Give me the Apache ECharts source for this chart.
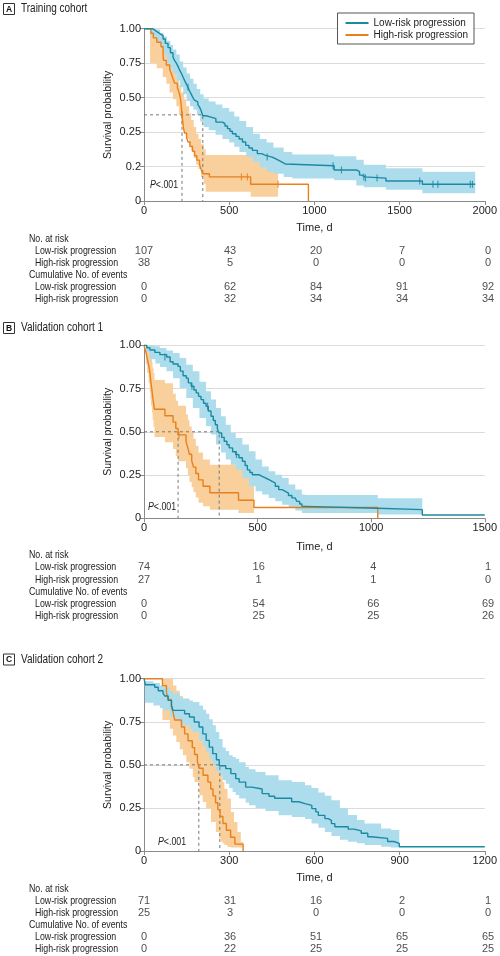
<!DOCTYPE html>
<html><head><meta charset="utf-8">
<script src="https://cdn.jsdelivr.net/npm/echarts/dist/echarts.min.js"></script>
<style>html,body{margin:0;padding:0;background:#fff}#c{width:500px;height:956px}</style>
</head><body><div id="c"></div>
<script>
// ---------- DATA ----------
var seriesNames = ['Low-risk progression', 'High-risk progression'];

// Panel A: Training cohort  ([day, survival])
var A_low = [[0,1],[50,0.99],[65,0.98],[80,0.97],[95,0.96],[112,0.94],[125,0.915],[141,0.89],[155,0.86],[170,0.835],[180,0.815],[190,0.8],[200,0.78],[209,0.76],[220,0.74],[229,0.72],[238,0.7],[248,0.68],[258,0.66],[267,0.64],[277,0.62],[287,0.6],[296,0.585],[306,0.575],[316,0.56],[326,0.545],[335,0.525],[345,0.495],[364,0.487],[393,0.478],[422,0.458],[461,0.449],[475,0.435],[490,0.42],[505,0.405],[519,0.39],[540,0.375],[558,0.36],[578,0.342],[597,0.323],[616,0.308],[636,0.294],[665,0.275],[690,0.265],[713,0.255],[752,0.246],[771,0.236],[791,0.226],[810,0.215],[829,0.205],[1116,0.18],[1246,0.17],[1265,0.15],[1280,0.14],[1295,0.133],[1420,0.116],[1634,0.097],[1944,0.097]];
var A_high = [[0,1],[40,0.974],[55,0.947],[75,0.921],[100,0.895],[112,0.842],[115,0.816],[131,0.789],[151,0.763],[161,0.737],[170,0.711],[180,0.684],[196,0.658],[205,0.632],[212,0.605],[216,0.579],[219,0.553],[221,0.526],[223,0.5],[226,0.474],[229,0.447],[232,0.421],[238,0.395],[250,0.368],[258,0.342],[270,0.316],[285,0.289],[297,0.263],[310,0.237],[326,0.211],[335,0.184],[345,0.158],[384,0.14],[626,0.097],[965,0]];
var A_lowCensor = [[258,0.66],[723,0.255],[1110,0.205],[1159,0.18],[1290,0.14],[1300,0.133],[1368,0.133],[1618,0.116],[1696,0.097],[1725,0.097],[1915,0.097],[1928,0.097]];
var A_highCensor = [[224,0.5],[572,0.14],[607,0.14],[787,0.097]];
// bands: [day, lower, upper]
var A_lowBand = [[0,1,1],[40,0.955,1],[70,0.93,0.995],[95,0.89,0.975],[115,0.85,0.955],[135,0.8,0.93],[155,0.77,0.905],[170,0.74,0.88],[190,0.7,0.85],[210,0.66,0.81],[230,0.62,0.775],[250,0.58,0.74],[270,0.55,0.71],[290,0.53,0.68],[310,0.5,0.65],[330,0.46,0.62],[350,0.43,0.595],[380,0.41,0.578],[420,0.385,0.56],[460,0.36,0.54],[500,0.34,0.52],[530,0.315,0.49],[560,0.285,0.465],[600,0.255,0.43],[640,0.225,0.39],[680,0.195,0.36],[720,0.17,0.34],[760,0.158,0.31],[820,0.14,0.285],[870,0.13,0.27],[950,0.13,0.27],[1116,0.12,0.26],[1246,0.09,0.24],[1290,0.08,0.21],[1420,0.065,0.19],[1634,0.045,0.17],[1944,0.045,0.17]];
var A_highBand = [[0,1,1],[35,0.8,1],[75,0.77,0.97],[110,0.72,0.93],[131,0.68,0.89],[150,0.63,0.84],[170,0.59,0.77],[190,0.55,0.71],[205,0.5,0.67],[219,0.44,0.63],[235,0.4,0.59],[248,0.36,0.55],[265,0.32,0.51],[277,0.29,0.47],[292,0.25,0.43],[306,0.21,0.39],[320,0.185,0.36],[335,0.14,0.33],[350,0.1,0.3],[362,0.054,0.267],[626,0.025,0.267],[787,0.025,0.267]];
var A_medians = [223, 345];
var A_xTicks = [0, 500, 1000, 1500, 2000];
var A_yLabels = ['0', '0.2', '0.25', '0.50', '0.75', '1.00'];
var A_riskLow = [107, 43, 20, 7, 0];
var A_riskHigh = [38, 5, 0, 0, 0];
var A_eventsLow = [0, 62, 84, 91, 92];
var A_eventsHigh = [0, 32, 34, 34, 34];

// Panel B: Validation cohort 1
var B_low = [[0,1],[12,0.986],[26,0.973],[48,0.959],[70,0.946],[100,0.932],[115,0.905],[128,0.892],[150,0.878],[160,0.851],[172,0.824],[186,0.81],[195,0.783],[208,0.763],[220,0.742],[230,0.725],[240,0.705],[251,0.686],[262,0.665],[273,0.647],[283,0.62],[295,0.59],[305,0.565],[314,0.541],[323,0.515],[331,0.493],[342,0.468],[353,0.445],[365,0.425],[375,0.407],[390,0.385],[404,0.368],[418,0.35],[433,0.33],[445,0.305],[455,0.28],[466,0.265],[477,0.252],[506,0.243],[520,0.233],[535,0.224],[550,0.214],[564,0.204],[578,0.185],[593,0.166],[608,0.156],[622,0.146],[636,0.132],[651,0.118],[665,0.108],[673,0.098],[685,0.083],[695,0.069],[709,0.058],[1029,0.05],[1225,0.019],[1500,0.019]];
var B_high = [[0,1],[8,0.963],[14,0.926],[20,0.889],[25,0.852],[28,0.815],[31,0.778],[35,0.741],[38,0.704],[42,0.667],[46,0.63],[92,0.593],[128,0.556],[140,0.519],[150,0.482],[185,0.444],[193,0.407],[200,0.37],[210,0.333],[218,0.296],[228,0.259],[240,0.222],[260,0.185],[290,0.148],[416,0.104],[484,0.062],[1029,0]];
var B_lowCensor = [[92,0.932],[211,0.763],[280,0.647],[407,0.368]];
var B_highCensor = [[154,0.482]];
var B_lowBand = [[0,1,1],[10,0.96,1],[26,0.92,1],[50,0.895,0.995],[70,0.875,0.985],[99,0.85,0.97],[128,0.81,0.956],[157,0.753,0.927],[186,0.696,0.888],[215,0.638,0.85],[244,0.58,0.79],[273,0.532,0.734],[295,0.484,0.686],[317,0.426,0.638],[339,0.38,0.59],[360,0.34,0.541],[382,0.31,0.493],[404,0.281,0.464],[433,0.233,0.426],[462,0.185,0.387],[491,0.156,0.34],[520,0.137,0.3],[549,0.118,0.272],[578,0.098,0.252],[608,0.079,0.233],[637,0.06,0.195],[666,0.045,0.166],[695,0.031,0.137],[709,0.03,0.135],[1029,0.022,0.116],[1225,0.022,0.116]];
var B_highBand = [[0,1,1],[8,0.89,1],[14,0.84,1],[20,0.78,1],[25,0.73,0.97],[28,0.69,0.95],[31,0.65,0.92],[35,0.61,0.9],[38,0.57,0.87],[42,0.53,0.84],[46,0.47,0.8],[92,0.44,0.78],[128,0.4,0.72],[140,0.36,0.68],[150,0.33,0.65],[185,0.29,0.6],[193,0.25,0.57],[200,0.21,0.53],[210,0.18,0.5],[218,0.15,0.46],[228,0.12,0.42],[240,0.09,0.38],[260,0.07,0.34],[290,0.05,0.31],[416,0.03,0.31],[484,0.03,0.31]];
var B_medians = [150, 331];
var B_xTicks = [0, 500, 1000, 1500];
var B_yLabels = ['0', '0.25', '0.50', '0.75', '1.00'];
var B_riskLow = [74, 16, 4, 1];
var B_riskHigh = [27, 1, 1, 0];
var B_eventsLow = [0, 54, 66, 69];
var B_eventsHigh = [0, 25, 25, 26];

// Panel C: Validation cohort 2
var C_low = [[0,1],[5,0.965],[38,0.95],[50,0.93],[67,0.915],[73,0.9],[85,0.874],[97,0.845],[102,0.816],[143,0.797],[160,0.778],[177,0.749],[194,0.72],[207,0.68],[219,0.642],[230,0.603],[242,0.565],[255,0.53],[265,0.495],[288,0.478],[306,0.449],[323,0.42],[335,0.4],[358,0.371],[380,0.36],[416,0.333],[440,0.318],[460,0.306],[520,0.286],[545,0.275],[567,0.265],[591,0.246],[605,0.227],[614,0.207],[637,0.188],[649,0.178],[660,0.159],[672,0.141],[719,0.127],[740,0.117],[765,0.103],[788,0.083],[800,0.073],[858,0.055],[880,0.044],[899,0.025],[1200,0.025]];
var C_high = [[0,1],[65,0.96],[79,0.92],[85,0.88],[96,0.84],[103,0.8],[108,0.76],[132,0.72],[143,0.68],[155,0.64],[170,0.6],[178,0.56],[188,0.52],[194,0.48],[208,0.44],[225,0.4],[235,0.36],[243,0.32],[252,0.28],[260,0.24],[268,0.2],[278,0.16],[290,0.12],[305,0.08],[320,0.04],[349,0]];
var C_lowCensor = [];
var C_highCensor = [];
var C_lowBand = [[0,1,1],[3,0.86,0.985],[33,0.845,0.975],[56,0.83,0.96],[67,0.816,0.95],[91,0.78,0.93],[102,0.768,0.915],[126,0.745,0.89],[137,0.73,0.885],[160,0.71,0.874],[172,0.69,0.865],[195,0.642,0.845],[208,0.61,0.82],[219,0.574,0.797],[230,0.535,0.765],[242,0.497,0.73],[253,0.465,0.69],[265,0.439,0.65],[277,0.41,0.6],[288,0.39,0.58],[300,0.365,0.555],[312,0.342,0.545],[323,0.325,0.536],[335,0.304,0.515],[358,0.28,0.487],[370,0.265,0.475],[393,0.25,0.458],[428,0.232,0.439],[474,0.207,0.41],[521,0.197,0.4],[567,0.185,0.381],[590,0.16,0.365],[614,0.135,0.34],[637,0.11,0.32],[660,0.087,0.295],[690,0.065,0.25],[718,0.054,0.209],[750,0.045,0.18],[777,0.035,0.16],[835,0.025,0.13],[870,0.02,0.122],[899,0.02,0.122]];
var C_highBand = [[0,1,1],[65,0.76,1],[91,0.71,1],[102,0.67,0.96],[114,0.632,0.93],[126,0.59,0.9],[137,0.555,0.87],[149,0.515,0.845],[160,0.478,0.815],[172,0.43,0.787],[178,0.4,0.755],[195,0.323,0.72],[207,0.285,0.69],[219,0.246,0.66],[236,0.168,0.594],[253,0.11,0.516],[265,0.072,0.48],[271,0.055,0.44],[277,0.043,0.4],[283,0.035,0.362],[294,0.023,0.304],[306,0.02,0.226],[317,0.02,0.168],[329,0.02,0.11],[341,0.02,0.052],[349,0.02,0.052]];
var C_medians = [193, 267];
var C_xTicks = [0, 300, 600, 900, 1200];
var C_yLabels = ['0', '0.25', '0.50', '0.75', '1.00'];
var C_riskLow = [71, 31, 16, 2, 1];
var C_riskHigh = [25, 3, 0, 0, 0];
var C_eventsLow = [0, 36, 51, 65, 65];
var C_eventsHigh = [0, 22, 25, 25, 25];

var panelTitles = ['Training cohort', 'Validation cohort 1', 'Validation cohort 2'];
var panelLetters = ['A', 'B', 'C'];
var tableRowLabels = ['No. at risk', 'Low-risk progression', 'High-risk progression', 'Cumulative No. of events', 'Low-risk progression', 'High-risk progression'];

// ---------- STYLE / LAYOUT ----------
var TEAL = '#1a8aa2', ORANGE = '#e8801e';
var TEAL_BAND = '#addded', ORANGE_BAND = '#f9cf9c';
var FONT = "'Liberation Sans', Arial, sans-serif";
var TXT = '#222';
var SX = 0.8; // horizontal squeeze for condensed look of free text

var panels = [
  {low:A_low, high:A_high, lc:A_lowCensor, hc:A_highCensor, lb:A_lowBand, hb:A_highBand, med:A_medians, ticks:A_xTicks, ylab:A_yLabels,
   table:[null, A_riskLow, A_riskHigh, null, A_eventsLow, A_eventsHigh], top:28.7, h:172.3, tTop:233.3, tH:72, nameGap:21, titleY:9, pX:150, pY:185},
  {low:B_low, high:B_high, lc:B_lowCensor, hc:B_highCensor, lb:B_lowBand, hb:B_highBand, med:B_medians, ticks:B_xTicks, ylab:B_yLabels,
   table:[null, B_riskLow, B_riskHigh, null, B_eventsLow, B_eventsHigh], top:345.3, h:173, tTop:549, tH:73.2, nameGap:23, titleY:328, pX:148, pY:506.7},
  {low:C_low, high:C_high, lc:C_lowCensor, hc:C_highCensor, lb:C_lowBand, hb:C_highBand, med:C_medians, ticks:C_xTicks, ylab:C_yLabels,
   table:[null, C_riskLow, C_riskHigh, null, C_eventsLow, C_eventsHigh], top:678.7, h:172.3, tTop:882.7, tH:72, nameGap:21, titleY:659.5, pX:158, pY:841.7}
];

var grids = [], xAxes = [], yAxes = [], series = [], graphics = [];

function bandSeries(gi, band, color, z) {
  return {
    type: 'custom', xAxisIndex: gi, yAxisIndex: gi, silent: true, animation: false, z: z, clip: true,
    data: band,
    encode: {x: 0, y: [1, 2]},
    renderItem: function (params, api) {
      if (params.dataIndex !== 0) return null;
      var up = [], lo = [];
      for (var i = 0; i < band.length - 1; i++) {
        var t0 = band[i][0], t1 = band[i + 1][0];
        up.push(api.coord([t0, band[i][2]]), api.coord([t1, band[i][2]]));
        lo.push(api.coord([t0, band[i][1]]), api.coord([t1, band[i][1]]));
      }
      return {type: 'polygon', shape: {points: up.concat(lo.reverse())},
              style: {fill: color, blend: 'multiply'}};
    }
  };
}

panels.forEach(function (p, k) {
  var gi = k * 2, ti = k * 2 + 1;
  var xmax = p.ticks[p.ticks.length - 1], xint = p.ticks[1] - p.ticks[0];
  var yint = 1 / (p.ylab.length - 1);
  grids.push({left: 144, right: 12, top: p.top, height: p.h});
  grids.push({left: 144, right: 12, top: p.tTop, height: p.tH});
  xAxes.push({type: 'value', gridIndex: gi, min: 0, max: xmax, interval: xint,
    axisLine: {show: true, lineStyle: {color: '#8a8a8a', width: 1}},
    axisTick: {show: true, length: 4, lineStyle: {color: '#8a8a8a'}},
    axisLabel: {color: TXT, fontSize: 11, margin: 4, fontFamily: FONT, formatter: function (v) { return String(v); }},
    splitLine: {show: false},
    name: 'Time, d', nameLocation: 'middle', nameGap: p.nameGap, nameMoveOverlap: false,
    nameTextStyle: {color: TXT, fontSize: 11, fontFamily: FONT}});
  xAxes.push({type: 'value', gridIndex: ti, min: 0, max: xmax, show: false});
  (function (labels) {
    yAxes.push({type: 'value', gridIndex: gi, min: 0, max: 1, interval: yint,
      axisLine: {show: true, lineStyle: {color: '#8a8a8a', width: 1}},
      axisTick: {show: true, length: 4, lineStyle: {color: '#8a8a8a'}},
      axisLabel: {color: TXT, fontSize: 11, margin: 3, fontFamily: FONT,
        formatter: function (v) { return labels[Math.round(v / yint)]; }},
      splitLine: {show: true, lineStyle: {color: '#dcdcdc', width: 1}},
      name: 'Survival probability', nameLocation: 'middle', nameGap: 30, nameMoveOverlap: false,
      nameTextStyle: {color: TXT, fontSize: 10.5, fontFamily: FONT}});
  })(p.ylab);
  yAxes.push({type: 'value', gridIndex: ti, min: 0, max: 6, inverse: true, show: false});

  // bands (orange under, blue over)
  series.push(bandSeries(gi, p.hb, ORANGE_BAND, 1));
  series.push(bandSeries(gi, p.lb, TEAL_BAND, 2));
  // median dashed lines
  var dash = {color: '#777', width: 1, type: [3, 3]};
  series.push({type: 'line', xAxisIndex: gi, yAxisIndex: gi, silent: true, animation: false, z: 3, symbol: 'none',
    lineStyle: dash, data: [[0, 0.5], [p.med[1], 0.5], [p.med[1], 0]]});
  series.push({type: 'line', xAxisIndex: gi, yAxisIndex: gi, silent: true, animation: false, z: 3, symbol: 'none',
    lineStyle: dash, data: [[p.med[0], 0.5], [p.med[0], 0]]});
  // KM curves
  series.push({type: 'line', name: seriesNames[1], xAxisIndex: gi, yAxisIndex: gi, step: 'end', symbol: 'none', silent: true, animation: false, z: 4,
    lineStyle: {color: ORANGE, width: 1.4}, itemStyle: {color: ORANGE}, data: p.high});
  series.push({type: 'line', name: seriesNames[0], xAxisIndex: gi, yAxisIndex: gi, step: 'end', symbol: 'none', silent: true, animation: false, z: 5,
    lineStyle: {color: TEAL, width: 1.4}, itemStyle: {color: TEAL}, data: p.low});
  // censor marks
  series.push({type: 'scatter', xAxisIndex: gi, yAxisIndex: gi, silent: true, animation: false, z: 6,
    symbol: 'rect', symbolSize: [1.2, 7], itemStyle: {color: ORANGE}, data: p.hc});
  series.push({type: 'scatter', xAxisIndex: gi, yAxisIndex: gi, silent: true, animation: false, z: 6,
    symbol: 'rect', symbolSize: [1.2, 7], itemStyle: {color: TEAL}, data: p.lc});
  // risk table numbers
  var tdata = [];
  p.table.forEach(function (row, r) {
    if (!row) return;
    row.forEach(function (v, i) { tdata.push([p.ticks[i], r + 0.5, v]); });
  });
  series.push({type: 'scatter', xAxisIndex: ti, yAxisIndex: ti, silent: true, animation: false,
    symbol: 'circle', symbolSize: 1, itemStyle: {color: 'rgba(0,0,0,0)'},
    label: {show: true, position: 'inside', color: TXT, fontSize: 11, fontFamily: FONT,
      formatter: function (q) { return String(q.value[2]); }},
    data: tdata});

  // titles
  var by = p.titleY;
  graphics.push({type: 'rect', x: 3.5, y: by - 5.5, shape: {width: 11, height: 11}, style: {fill: '#fff', stroke: '#333', lineWidth: 1}});
  graphics.push({type: 'text', x: 9, y: by + 0.5, style: {text: panelLetters[k], fontSize: 8.5, fontWeight: 'bold', fill: '#111', fontFamily: FONT, align: 'center', verticalAlign: 'middle'}});
  graphics.push({type: 'text', x: 21, y: by, scaleX: SX, style: {text: panelTitles[k], fontSize: 12.5, fill: TXT, fontFamily: FONT, verticalAlign: 'middle'}});
  // P value
  graphics.push({type: 'text', x: p.pX, y: p.pY, scaleX: SX, style: {rich: {i: {fontStyle: 'italic', fontSize: 11, fontFamily: FONT, fill: TXT}, n: {fontSize: 11, fontFamily: FONT, fill: TXT}},
    text: '{i|P}{n|<.001}', verticalAlign: 'middle'}});
  // table row labels
  tableRowLabels.forEach(function (lab, r) {
    var isHead = (r === 0 || r === 3);
    graphics.push({type: 'text', x: isHead ? 29 : 35, y: p.tTop + (r + 0.5) * (p.tH / 6), scaleX: SX,
      style: {text: lab, fontSize: 11, fill: TXT, fontFamily: FONT, verticalAlign: 'middle'}});
  });
});

var chart = echarts.init(document.getElementById('c'), null, {renderer: 'canvas'});
chart.setOption({
  backgroundColor: '#fff',
  animation: false,
  grid: grids, xAxis: xAxes, yAxis: yAxes, series: series, graphic: graphics,
  legend: {right: 26, top: 13, orient: 'vertical', selectedMode: false,
    data: [{name: seriesNames[0], icon: 'rect'}, {name: seriesNames[1], icon: 'rect'}],
    itemWidth: 23, itemHeight: 2, itemGap: 0, padding: [4, 6, 3, 8],
    borderColor: '#555', borderWidth: 1, backgroundColor: '#fff',
    textStyle: {fontSize: 10, color: TXT, fontFamily: FONT, lineHeight: 12}}
});
</script></body></html>
